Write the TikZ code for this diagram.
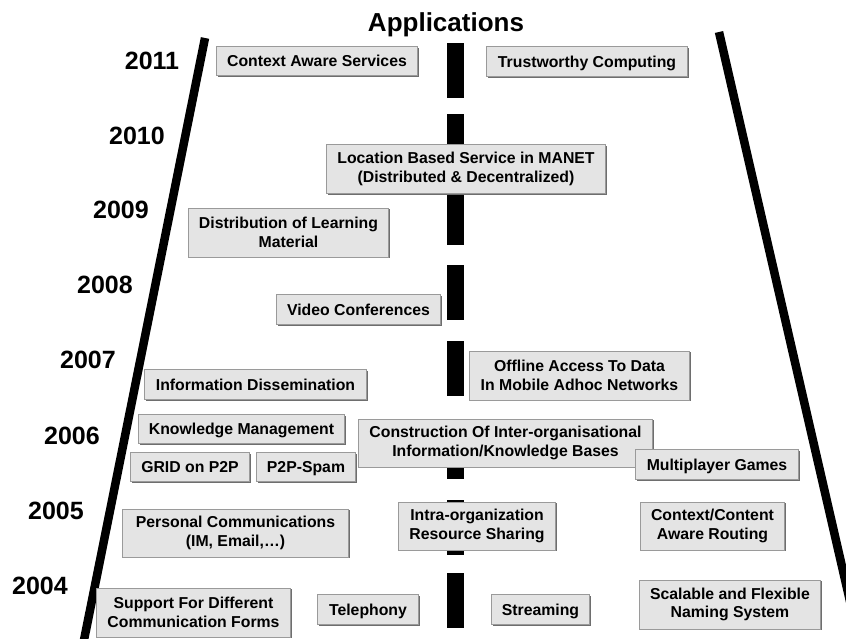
\documentclass[tikz,border=0pt]{standalone}
\usepackage{fontspec}
\setmainfont{Liberation Sans}
\usetikzlibrary{shadows}
\definecolor{boxfill}{HTML}{E4E4E4}
\definecolor{boxedge}{HTML}{9A9A9A}
\definecolor{boxshade}{HTML}{6E6E6E}
\begin{document}
\begin{tikzpicture}[x=1pt,y=-1pt,
  appbox/.style={draw=boxedge, line width=0.9pt, fill=boxfill, align=center,
    inner sep=0pt, font=\fontsize{15.8}{18.5}\selectfont\bfseries,
    drop shadow={shadow xshift=1.3pt, shadow yshift=-1.3pt, fill=boxshade, opacity=1}},
  onebox/.style={appbox, text height=11.3pt, text depth=0pt},
  year/.style={font=\fontsize{25}{30}\selectfont\bfseries, inner sep=0pt},
  rail/.style={line width=8.5pt},
  ]
\useasboundingbox (0,0) rectangle (846,639);

% the two converging road edges
\begin{scope}
  \clip (0,0) rectangle (846,639);
  \draw[rail] (205,38) -- (83,645);
  \draw[rail] (719,32) -- (852,610);
\end{scope}

% centre lane marking
\foreach \a/\b in {43/98,114/169,190/245,265/320,341/396,424/479,500/555,573/628}
  \fill (446.5,\a) rectangle (463.5,\b);

% heading
\node[font=\fontsize{26}{30}\selectfont\bfseries, anchor=base, inner sep=0pt] (title) at (446,32) {Applications};

% years
\node[year] (y2011) at (152,61) {2011};
\node[year] (y2010) at (137,136) {2010};
\node[year] (y2009) at (121,210) {2009};
\node[year] (y2008) at (105,285) {2008};
\node[year] (y2007) at (88,360) {2007};
\node[year] (y2006) at (72,436) {2006};
\node[year] (y2005) at (56,511) {2005};
\node[year] (y2004) at (40,586) {2004};

% application boxes
\node[onebox, minimum width=201pt, minimum height=29pt] (ctx) at (317,61) {Context Aware Services};
\node[onebox, minimum width=201pt, minimum height=30pt] (trust) at (587,61.5) {Trustworthy Computing};
\node[appbox, minimum width=279pt, minimum height=49pt] (loc) at (466,169) {Location Based Service in MANET\\(Distributed \& Decentralized)};
\node[appbox, minimum width=200pt, minimum height=49pt] (dist) at (288.5,232.5) {Distribution of Learning\\Material};
\node[onebox, minimum width=164pt, minimum height=30pt] (video) at (358.5,309.5) {Video Conferences};
\node[appbox, minimum width=220pt, minimum height=49pt] (offline) at (579.5,375.5) {Offline Access To Data\\In Mobile Adhoc Networks};
\node[onebox, minimum width=222pt, minimum height=30pt] (info) at (255.5,384.5) {Information Dissemination};
\node[onebox, minimum width=206pt, minimum height=29pt] (know) at (241.5,429) {Knowledge Management};
\node[appbox, minimum width=294pt, minimum height=48pt] (constr) at (505.5,443) {Construction Of Inter-organisational\\Information/Knowledge Bases};
\node[onebox, minimum width=119pt, minimum height=29pt] (grid) at (190,467) {GRID on P2P};
\node[onebox, minimum width=99pt, minimum height=29pt] (spam) at (306,467) {P2P-Spam};
\node[onebox, minimum width=163pt, minimum height=30pt] (multi) at (717,464.5) {Multiplayer Games};
\node[appbox, minimum width=226pt, minimum height=48pt] (personal) at (235.5,533) {Personal Communications\\(IM, Email,…)};
\node[appbox, minimum width=157pt, minimum height=48pt] (intra) at (477,526) {Intra-organization\\Resource Sharing};
\node[appbox, minimum width=144pt, minimum height=48pt] (routing) at (712.5,526) {Context/Content\\Aware Routing};
\node[appbox, minimum width=194pt, minimum height=49pt] (support) at (193.5,612.5) {Support For Different\\Communication Forms};
\node[onebox, minimum width=101pt, minimum height=30pt] (tele) at (368,609.5) {Telephony};
\node[onebox, minimum width=98pt, minimum height=30pt] (stream) at (540.5,609.5) {Streaming};
\node[appbox, minimum width=181pt, minimum height=49pt] (naming) at (730,604.5) {Scalable and Flexible\\Naming System};
\end{tikzpicture}
\end{document}
